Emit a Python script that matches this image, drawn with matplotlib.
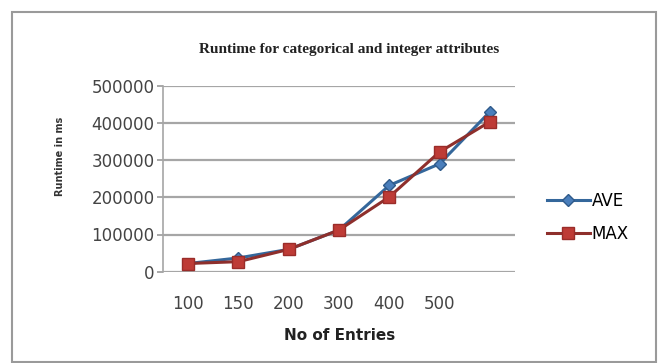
import matplotlib
matplotlib.use("Agg")
import matplotlib.pyplot as plt
import matplotlib.transforms as mtransforms
from matplotlib.patches import Rectangle

entries = ["100", "150", "200", "300", "400", "500", ""]
ave = [22000, 37000, 60000, 112000, 232000, 290000, 430000]
mx = [22000, 27000, 60000, 112000, 201000, 322000, 403000]

fig = plt.figure(figsize=(6.62, 3.63), dpi=100)
ax = fig.add_axes([163/662, 1 - 271.7/363, 352/662, 186/363])

x = range(len(entries))
ax.plot(x, ave, color="#34679B", lw=2.2, marker="D", ms=6.5,
        mfc="#4A7EBB", mec="#2F5A8A", label="AVE", zorder=3)
ax.plot(x, mx, color="#8E2F2C", lw=2.2, marker="s", ms=9,
        mfc="#BE3B36", mec="#9A2C29", label="MAX", zorder=4)

ax.set_xlim(-0.5, len(entries) - 0.5)
ax.set_ylim(0, 500000)
ax.set_yticks([0, 100000, 200000, 300000, 400000, 500000])
ax.set_yticklabels(["0", "100000", "200000", "300000", "400000", "500000"],
                   fontsize=12, color="#444444")
ax.set_xticks(list(x))
ax.set_xticklabels(entries, fontsize=12, color="#444444")
offset = mtransforms.ScaledTranslation(0.08, 0, fig.dpi_scale_trans)
for lbl in ax.get_xticklabels():
    lbl.set_transform(lbl.get_transform() + offset)
ax.tick_params(axis="x", length=0, pad=17)
ax.tick_params(axis="y", length=4, width=1.2, color="#999999", pad=2)

ax.grid(axis="y", color="#A6A6A6", lw=1.6)
ax.set_axisbelow(True)
for s in ["top", "right", "bottom"]:
    ax.spines[s].set_visible(False)
ax.spines["left"].set_color("#A6A6A6")
ax.spines["left"].set_linewidth(1.2)

fig.text(349/662, 1 - 50/363, "Runtime for categorical and integer attributes",
         ha="center", va="center", fontsize=11, fontweight="bold",
         family="Liberation Serif", color="#222222")
fig.text(340/662, 1 - 335/363, "No of Entries", ha="center", va="center",
         fontsize=11, fontweight="bold", color="#222222")
fig.text(60/662, 1 - 156/363, "Runtime in ms", ha="center", va="center",
         rotation=90, fontsize=7, fontweight="bold", color="#333333")

fig.legend(loc="center left", bbox_to_anchor=(540/662, 1 - 217/363),
           frameon=False, fontsize=12, handlelength=2.6, handletextpad=0.1,
           labelspacing=0.9, borderaxespad=0)

fig.patches.append(Rectangle((12/662, 1/363), 644/662, 350/363,
                             transform=fig.transFigure, fill=False,
                             edgecolor="#9A9A9A", lw=1.5))

fig.savefig("out.png", dpi=100)
